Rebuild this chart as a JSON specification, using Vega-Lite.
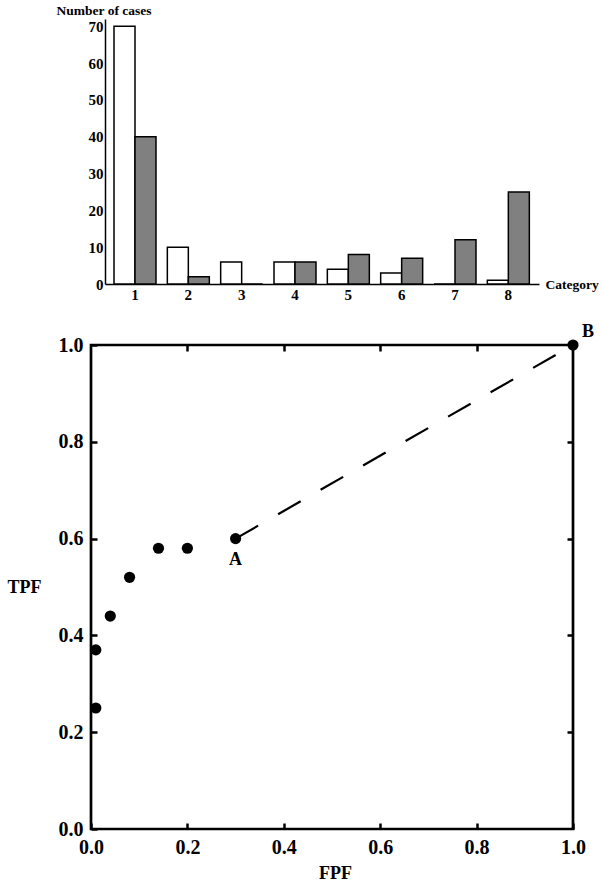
{
  "$schema": "https://vega.github.io/schema/vega-lite/v6.json",
  "padding": {"left": 5, "top": 3, "right": 0, "bottom": 0},
  "background": "white",
  "bounds": "flush",
  "spacing": 61,
  "config": {
    "view": {"stroke": null},
    "font": "Liberation Serif",
    "axis": {
      "labelFont": "Liberation Serif",
      "titleFont": "Liberation Serif",
      "labelColor": "black",
      "titleColor": "black",
      "domainColor": "black",
      "tickColor": "black",
      "grid": false,
      "labelFontWeight": "bold",
      "titleFontWeight": "bold"
    },
    "text": {"font": "Liberation Serif"}
  },
  "datasets": {
    "cases": [
      {"category": "1", "group": "white", "count": 70},
      {"category": "1", "group": "gray", "count": 40},
      {"category": "2", "group": "white", "count": 10},
      {"category": "2", "group": "gray", "count": 2},
      {"category": "3", "group": "white", "count": 6},
      {"category": "3", "group": "gray", "count": 0},
      {"category": "4", "group": "white", "count": 6},
      {"category": "4", "group": "gray", "count": 6},
      {"category": "5", "group": "white", "count": 4},
      {"category": "5", "group": "gray", "count": 8},
      {"category": "6", "group": "white", "count": 3},
      {"category": "6", "group": "gray", "count": 7},
      {"category": "7", "group": "white", "count": 0},
      {"category": "7", "group": "gray", "count": 12},
      {"category": "8", "group": "white", "count": 1},
      {"category": "8", "group": "gray", "count": 25}
    ],
    "roc": [
      {"fpf": 0.01, "tpf": 0.25, "label": ""},
      {"fpf": 0.01, "tpf": 0.37, "label": ""},
      {"fpf": 0.04, "tpf": 0.44, "label": ""},
      {"fpf": 0.08, "tpf": 0.52, "label": ""},
      {"fpf": 0.14, "tpf": 0.58, "label": ""},
      {"fpf": 0.20, "tpf": 0.58, "label": ""},
      {"fpf": 0.30, "tpf": 0.60, "label": "A"},
      {"fpf": 1.0, "tpf": 1.0, "label": "B"}
    ],
    "segment": [
      {"fpf": 0.30, "tpf": 0.60},
      {"fpf": 1.0, "tpf": 1.0}
    ]
  },
  "vconcat": [
    {
      "width": 448,
      "height": 265,
      "data": {"name": "cases"},
      "mark": {"type": "bar", "stroke": "black", "strokeWidth": 1.5},
      "encoding": {
        "x": {
          "field": "category",
          "type": "ordinal",
          "scale": {"paddingInner": 0, "paddingOuter": 0.2, "align": 0.8125},
          "axis": {
            "domainDash": [0, 14, 434, 2000],
            "domainWidth": 1.5,
            "ticks": false,
            "labelAngle": 0,
            "labelPadding": 3,
            "labelFontSize": 15,
            "title": "Category",
            "titleX": 454,
            "titleY": 0,
            "titleAlign": "left",
            "titleBaseline": "middle",
            "titleFontSize": 13.5
          }
        },
        "xOffset": {
          "field": "group",
          "type": "nominal",
          "scale": {"domain": ["white", "gray"], "paddingInner": 0, "paddingOuter": 0.27}
        },
        "y": {
          "field": "count",
          "type": "quantitative",
          "scale": {"domain": [0, 72], "nice": false},
          "axis": {
            "values": [0, 10, 20, 30, 40, 50, 60, 70],
            "ticks": false,
            "labelPadding": 2,
            "offset": -14,
            "domainWidth": 1.5,
            "labelFontSize": 15,
            "title": "Number of cases",
            "titleAngle": 0,
            "titleAlign": "left",
            "titleBaseline": "top",
            "titleX": -49,
            "titleY": -16,
            "titleFontSize": 13.5
          }
        },
        "color": {
          "field": "group",
          "type": "nominal",
          "scale": {"domain": ["white", "gray"], "range": ["#ffffff", "#808080"]},
          "legend": null
        }
      }
    },
    {
      "width": 482,
      "height": 484,
      "view": {"stroke": "black", "strokeWidth": 2.7},
      "resolve": {"axis": {"x": "independent", "y": "independent"}},
      "layer": [
        {
          "data": {"name": "segment"},
          "mark": {"type": "line", "color": "black", "strokeWidth": 2.2, "strokeDash": [26, 23]},
          "encoding": {
            "x": {
              "field": "fpf",
              "type": "quantitative",
              "scale": {"domain": [0, 1], "nice": false},
              "axis": {
                "orient": "bottom",
                "values": [0, 0.2, 0.4, 0.6, 0.8, 1],
                "format": ".1f",
                "domain": false,
                "tickSize": -6,
                "tickWidth": 2.5,
                "labelPadding": 14,
                "labelFontSize": 20,
                "labelFlush": false,
                "title": "FPF",
                "titleX": 244,
                "titleY": 44,
                "titleAlign": "center",
                "titleBaseline": "middle",
                "titleFontSize": 18
              }
            },
            "y": {
              "field": "tpf",
              "type": "quantitative",
              "scale": {"domain": [0, 1], "nice": false},
              "axis": {
                "orient": "left",
                "values": [0, 0.2, 0.4, 0.6, 0.8, 1],
                "format": ".1f",
                "domain": false,
                "tickSize": -6,
                "tickWidth": 2.5,
                "labelPadding": 14,
                "labelFontSize": 20,
                "labelFlush": false,
                "title": "TPF",
                "titleAngle": 0,
                "titleX": -84,
                "titleY": 242,
                "titleAlign": "left",
                "titleBaseline": "middle",
                "titleFontSize": 18
              }
            }
          }
        },
        {
          "data": {"name": "roc"},
          "mark": {"type": "circle", "color": "black", "opacity": 1, "size": 125, "clip": false},
          "encoding": {
            "x": {
              "field": "fpf",
              "type": "quantitative",
              "axis": {
                "orient": "top",
                "values": [0.2, 0.4, 0.6, 0.8],
                "domain": false,
                "labels": false,
                "tickSize": -6,
                "tickWidth": 2.5,
                "title": null
              }
            },
            "y": {
              "field": "tpf",
              "type": "quantitative",
              "axis": {
                "orient": "right",
                "values": [0.2, 0.4, 0.6, 0.8],
                "domain": false,
                "labels": false,
                "tickSize": -6,
                "tickWidth": 2.5,
                "title": null
              }
            }
          }
        },
        {
          "data": {"name": "roc"},
          "transform": [{"filter": "datum.label == 'A'"}],
          "mark": {"type": "text", "fontSize": 18, "fontWeight": "bold", "color": "black", "dy": 21, "clip": false},
          "encoding": {
            "x": {"field": "fpf", "type": "quantitative", "axis": null},
            "y": {"field": "tpf", "type": "quantitative", "axis": null},
            "text": {"field": "label"}
          }
        },
        {
          "data": {"name": "roc"},
          "transform": [{"filter": "datum.label == 'B'"}],
          "mark": {"type": "text", "fontSize": 18, "fontWeight": "bold", "color": "black", "dx": 15, "dy": -13, "clip": false},
          "encoding": {
            "x": {"field": "fpf", "type": "quantitative", "axis": null},
            "y": {"field": "tpf", "type": "quantitative", "axis": null},
            "text": {"field": "label"}
          }
        }
      ]
    }
  ]
}
